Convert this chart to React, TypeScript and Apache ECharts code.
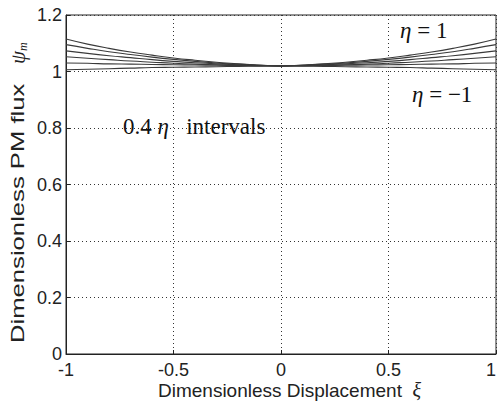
import React, { useEffect, useRef } from "react";
import * as echarts from "echarts";

const xs = [-1, -0.9, -0.8, -0.7, -0.6, -0.5, -0.4, -0.3, -0.2, -0.1, 0, 0.1, 0.2, 0.3, 0.4, 0.5, 0.6, 0.7, 0.8, 0.9, 1];

const etaP10 = [1.115, 1.097, 1.082, 1.069, 1.058, 1.048, 1.040, 1.033, 1.027, 1.023, 1.020, 1.023, 1.027, 1.033, 1.040, 1.048, 1.058, 1.069, 1.082, 1.097, 1.115];
const etaP06 = [1.095, 1.082, 1.070, 1.060, 1.051, 1.043, 1.036, 1.030, 1.026, 1.022, 1.020, 1.022, 1.026, 1.030, 1.036, 1.043, 1.051, 1.060, 1.070, 1.082, 1.095];
const etaP02 = [1.073, 1.064, 1.056, 1.049, 1.042, 1.036, 1.031, 1.027, 1.024, 1.021, 1.020, 1.021, 1.024, 1.027, 1.031, 1.036, 1.042, 1.049, 1.056, 1.064, 1.073];
const etaM02 = [1.052, 1.047, 1.042, 1.037, 1.033, 1.029, 1.026, 1.024, 1.022, 1.021, 1.020, 1.021, 1.022, 1.024, 1.026, 1.029, 1.033, 1.037, 1.042, 1.047, 1.052];
const etaM06 = [1.030, 1.029, 1.027, 1.026, 1.025, 1.024, 1.023, 1.022, 1.021, 1.020, 1.020, 1.020, 1.021, 1.022, 1.023, 1.024, 1.025, 1.026, 1.027, 1.029, 1.030];
const etaM10 = [1.006, 1.008, 1.010, 1.012, 1.014, 1.015, 1.016, 1.017, 1.018, 1.019, 1.020, 1.019, 1.018, 1.017, 1.016, 1.015, 1.014, 1.012, 1.010, 1.008, 1.006];

const seriesNames = ["η=1", "η=0.6", "η=0.2", "η=-0.2", "η=-0.6", "η=-1"];
const seriesValues = [etaP10, etaP06, etaP02, etaM02, etaM06, etaM10];

export default function App() {
  const ref = useRef<HTMLDivElement>(null);
  useEffect(() => {
    if (!ref.current) return;
    const chart = echarts.init(ref.current, null, { renderer: "svg" });
    const sans = "'Liberation Sans', Arial, sans-serif";
    const serif = "'Liberation Serif', 'Times New Roman', serif";
    const gridLine = { show: true, lineStyle: { color: "#333", width: 1, type: [1, 3] as any } };
    const richSerif = {
      it: { fontFamily: serif, fontStyle: "italic", fontSize: 23, fill: "#111", color: "#111" },
    };
    chart.setOption({
      animation: false,
      backgroundColor: "#fff",
      grid: {
        left: 66,
        top: 15,
        right: 2,
        bottom: 47,
        show: true,
        borderColor: "#222",
        borderWidth: 1,
        containLabel: false,
        outerBoundsMode: "none",
      } as any,
      xAxis: {
        type: "value",
        min: -1,
        max: 1,
        interval: 0.5,
        axisLine: { show: true, onZero: false, lineStyle: { color: "#222", width: 1 } },
        axisTick: { show: true, inside: true, length: 4, lineStyle: { color: "#222" } },
        axisLabel: { color: "#222", fontFamily: sans, fontSize: 18, margin: 7, alignMaxLabel: "right" },
        splitLine: gridLine,
      },
      yAxis: {
        type: "value",
        min: 0,
        max: 1.2,
        interval: 0.2,
        axisLine: { show: true, onZero: false, lineStyle: { color: "#222", width: 1 } },
        axisTick: { show: true, inside: true, length: 4, lineStyle: { color: "#222" } },
        axisLabel: { color: "#222", fontFamily: sans, fontSize: 18, margin: 4 },
        splitLine: gridLine,
      },
      series: seriesValues.map((vals, i) => ({
        name: seriesNames[i],
        type: "line",
        smooth: true,
        showSymbol: false,
        silent: true,
        lineStyle: { color: "#3a3a3a", width: 1.1 },
        data: xs.map((x, j) => [x, vals[j]]),
      })),
      graphic: [
        {
          type: "text",
          left: 158,
          top: 380,
          style: {
            text: "Dimensionless Displacement  {xi|ξ}",
            font: `19px ${sans}`,
            fill: "#222",
            rich: {
              xi: { fontFamily: serif, fontStyle: "italic", fontSize: 20, fill: "#222" },
            },
          } as any,
        },
        {
          type: "text",
          x: 18,
          y: 343,
          rotation: Math.PI / 2,
          scaleX: 1.35,
          style: {
            text: "Dimensionless PM flux",
            font: `19px ${sans}`,
            fill: "#222",
            align: "left",
            verticalAlign: "middle",
          } as any,
        },
        {
          type: "text",
          x: 18,
          y: 64,
          rotation: Math.PI / 2,
          style: {
            text: "{psi|ψ}{sub|m}",
            font: `19px ${serif}`,
            fill: "#222",
            align: "left",
            verticalAlign: "middle",
            rich: {
              psi: { fontFamily: serif, fontStyle: "italic", fontSize: 21, fill: "#222" },
              sub: { fontFamily: serif, fontStyle: "italic", fontSize: 12, fill: "#222", verticalAlign: "bottom", padding: [9, 0, 0, 0] },
            },
          } as any,
        },
        {
          type: "text",
          left: 400,
          top: 19,
          style: { text: "{it|η} = 1", font: `23px ${serif}`, fill: "#111", rich: richSerif } as any,
        },
        {
          type: "text",
          left: 412,
          top: 83,
          style: { text: "{it|η} = −1", font: `23px ${serif}`, fill: "#111", rich: richSerif } as any,
        },
        {
          type: "text",
          left: 111,
          top: 115,
          style: {
            text: "0.4 {it|η}   intervals",
            font: `23px ${serif}`,
            fill: "#111",
            backgroundColor: "#fff",
            padding: [0, 10, 0, 12],
            rich: richSerif,
          } as any,
        },
      ],
    });
    return () => chart.dispose();
  }, []);
  return <div ref={ref} style={{ position: "fixed", left: 0, top: 0, width: 498, height: 401 }} />;
}
